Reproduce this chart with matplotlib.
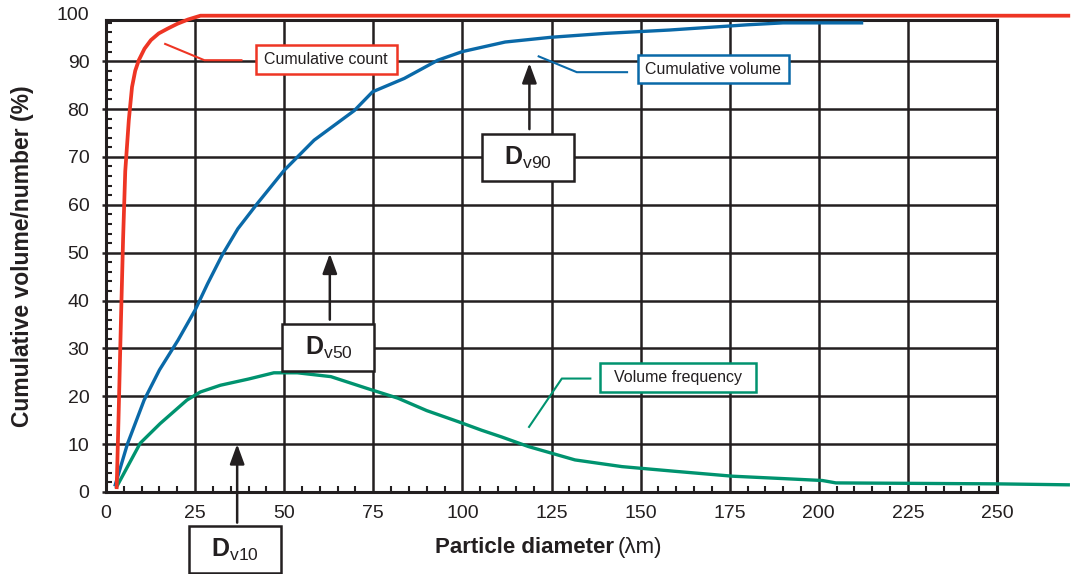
import matplotlib
matplotlib.use('Agg')
import matplotlib.pyplot as plt
from matplotlib.patches import Rectangle
from matplotlib.ticker import MultipleLocator

plt.rcParams['font.family'] = ['Liberation Sans', 'DejaVu Sans']
plt.rcParams['mathtext.fontset'] = 'custom'
plt.rcParams['mathtext.rm'] = 'Liberation Sans'
plt.rcParams['mathtext.bf'] = 'Liberation Sans:bold'

# values
count_d = [3, 3.5, 4.2, 4.8, 5.4, 6.4, 7.3, 8.2, 9.2, 10.8, 12.6, 14.8, 17.3, 20, 23, 26.5, 270]
count_pct = [1, 15, 36, 53, 67, 77.7, 84.6, 88, 90.2, 92.6, 94.4, 95.8, 96.8, 97.8, 98.7, 99.5, 99.5]

volume_d = [2.6, 6, 10.7, 15, 20.2, 25, 28.5, 32.6, 37, 42.5, 50, 58.4, 69.7, 74.8, 83.7,
            93.1, 100, 112, 125, 140, 158, 180, 190, 212]
volume_pct = [1.5, 10, 19.2, 25.5, 31.7, 38, 43.5, 49.5, 55, 60.3, 67.2, 73.5, 79.7, 83.6, 86.4,
              90.2, 92, 94, 95, 95.8, 96.5, 97.6, 98, 98]

freq_d = [3, 9.6, 15.2, 22.7, 26.5, 32.1, 40, 47.1, 53.7, 63.1, 73.4, 81.9, 90,
          98.8, 105.4, 111, 118.5, 131.6, 144.8, 160, 175.8, 190, 201, 204.8, 250, 270]
freq_pct = [1.1, 10.2, 14.3, 19.2, 20.9, 22.3, 23.6, 24.9, 24.9, 24.1, 21.6, 19.6, 17,
            14.7, 12.9, 11.5, 9.5, 6.7, 5.3, 4.3, 3.3, 2.8, 2.4, 1.9, 1.7, 1.5]

x_ticks = [0, 25, 50, 75, 100, 125, 150, 175, 200, 225, 250]
y_ticks = [0, 10, 20, 30, 40, 50, 60, 70, 80, 90]

INK = '#231f20'
RED = '#ee3524'
BLUE = '#0a69a8'
GREEN = '#00936f'

W, H = 1072, 574
fig = plt.figure(figsize=(W / 100, H / 100), dpi=100)
ax = fig.add_axes([106 / W, 1 - 492 / H, (997 - 106) / W, (492 - 20) / H])
ax.set_xlim(0, 250)
ax.set_ylim(0, 98.6)

ax.set_xticks(x_ticks)
ax.set_yticks(y_ticks)
ax.xaxis.set_minor_locator(MultipleLocator(5))
ax.yaxis.set_minor_locator(MultipleLocator(2))
ax.tick_params(axis='x', which='major', length=0, pad=9, labelsize=14, labelcolor=INK)
ax.tick_params(axis='y', which='major', direction='out', length=3, width=1.8,
               color=INK, pad=9, labelsize=14, labelcolor=INK)
ax.tick_params(which='minor', direction='in', length=4.5, width=1.5, color=INK)
ax.grid(which='major', color=INK, lw=1.8)
ax.set_axisbelow(True)
for sp in ax.spines.values():
    sp.set_color(INK)
    sp.set_linewidth(2.2)

# "100" sits just above the frame in the original
ax.text(-17 / 891, 99.6, '100', transform=ax.get_yaxis_transform(),
        ha='right', va='center', fontsize=14, color=INK)

ax.plot(count_d, count_pct, color=RED, lw=2.7, clip_on=False, zorder=4)
ax.plot(volume_d, volume_pct, color=BLUE, lw=2.4, clip_on=False, zorder=3)
ax.plot(freq_d, freq_pct, color=GREEN, lw=2.4, clip_on=False, zorder=3)


def label_box(cx, cy, w, h, text, color):
    ax.add_patch(Rectangle((cx - w / 2, cy - h / 2), w, h, facecolor='white',
                           edgecolor=color, lw=1.8, zorder=5, clip_on=False))
    ax.text(cx, cy, text, ha='center', va='center', fontsize=11.5, color=INK, zorder=6)


def d_box(cx, cy, text, tail, tip):
    ax.add_patch(Rectangle((cx - 12.9, cy - 4.9), 25.8, 9.8, facecolor='white',
                           edgecolor=INK, lw=1.8, zorder=5, clip_on=False))
    ax.text(cx, cy, text, ha='center', va='center', fontsize=18, color=INK, zorder=6)
    ax.annotate('', xy=tip, xytext=tail, annotation_clip=False, zorder=6,
                arrowprops=dict(arrowstyle='-|>,head_length=0.6,head_width=0.22',
                                color=INK, lw=1.8, mutation_scale=20,
                                shrinkA=0, shrinkB=0))


# curve labels with leader lines
ax.plot([16.6, 27.6, 38], [93.6, 90.2, 90.2], color=RED, lw=1.5, zorder=4)
label_box(61.8, 90.3, 39.7, 6.0, 'Cumulative count', RED)

ax.plot([121.4, 132.1, 146.2], [91, 87.7, 87.7], color=BLUE, lw=1.5, zorder=4)
label_box(170.4, 88.3, 42.2, 5.9, 'Cumulative volume', BLUE)

ax.plot([118.7, 127.9, 135.9], [13.6, 23.7, 23.7], color=GREEN, lw=1.5, zorder=4)
label_box(160.4, 24.0, 43.8, 6.1, 'Volume frequency', GREEN)

d_box(118.3, 69.8, r'$\mathbf{D}_{\mathrm{v90}}$', (118.8, 75.8), (118.8, 89.6))
d_box(62.4, 30.2, r'$\mathbf{D}_{\mathrm{v50}}$', (62.8, 36), (62.8, 49.8))
d_box(36.3, -12.1, r'$\mathbf{D}_{\mathrm{v10}}$', (36.8, -6.4), (36.8, 10))

fig.text(22.5 / W, 1 - 256 / H, 'Cumulative volume/number (%)', rotation=90,
         ha='center', va='center', fontsize=16.5, fontweight='bold', color=INK)
fig.text(614 / W, 1 - 553 / H, 'Particle diameter', ha='right', va='baseline',
         fontsize=16, fontweight='bold', color=INK)
fig.text(618 / W, 1 - 553 / H, '(λm)', ha='left', va='baseline',
         fontsize=16, color=INK)

fig.savefig('out.png', dpi=100)
